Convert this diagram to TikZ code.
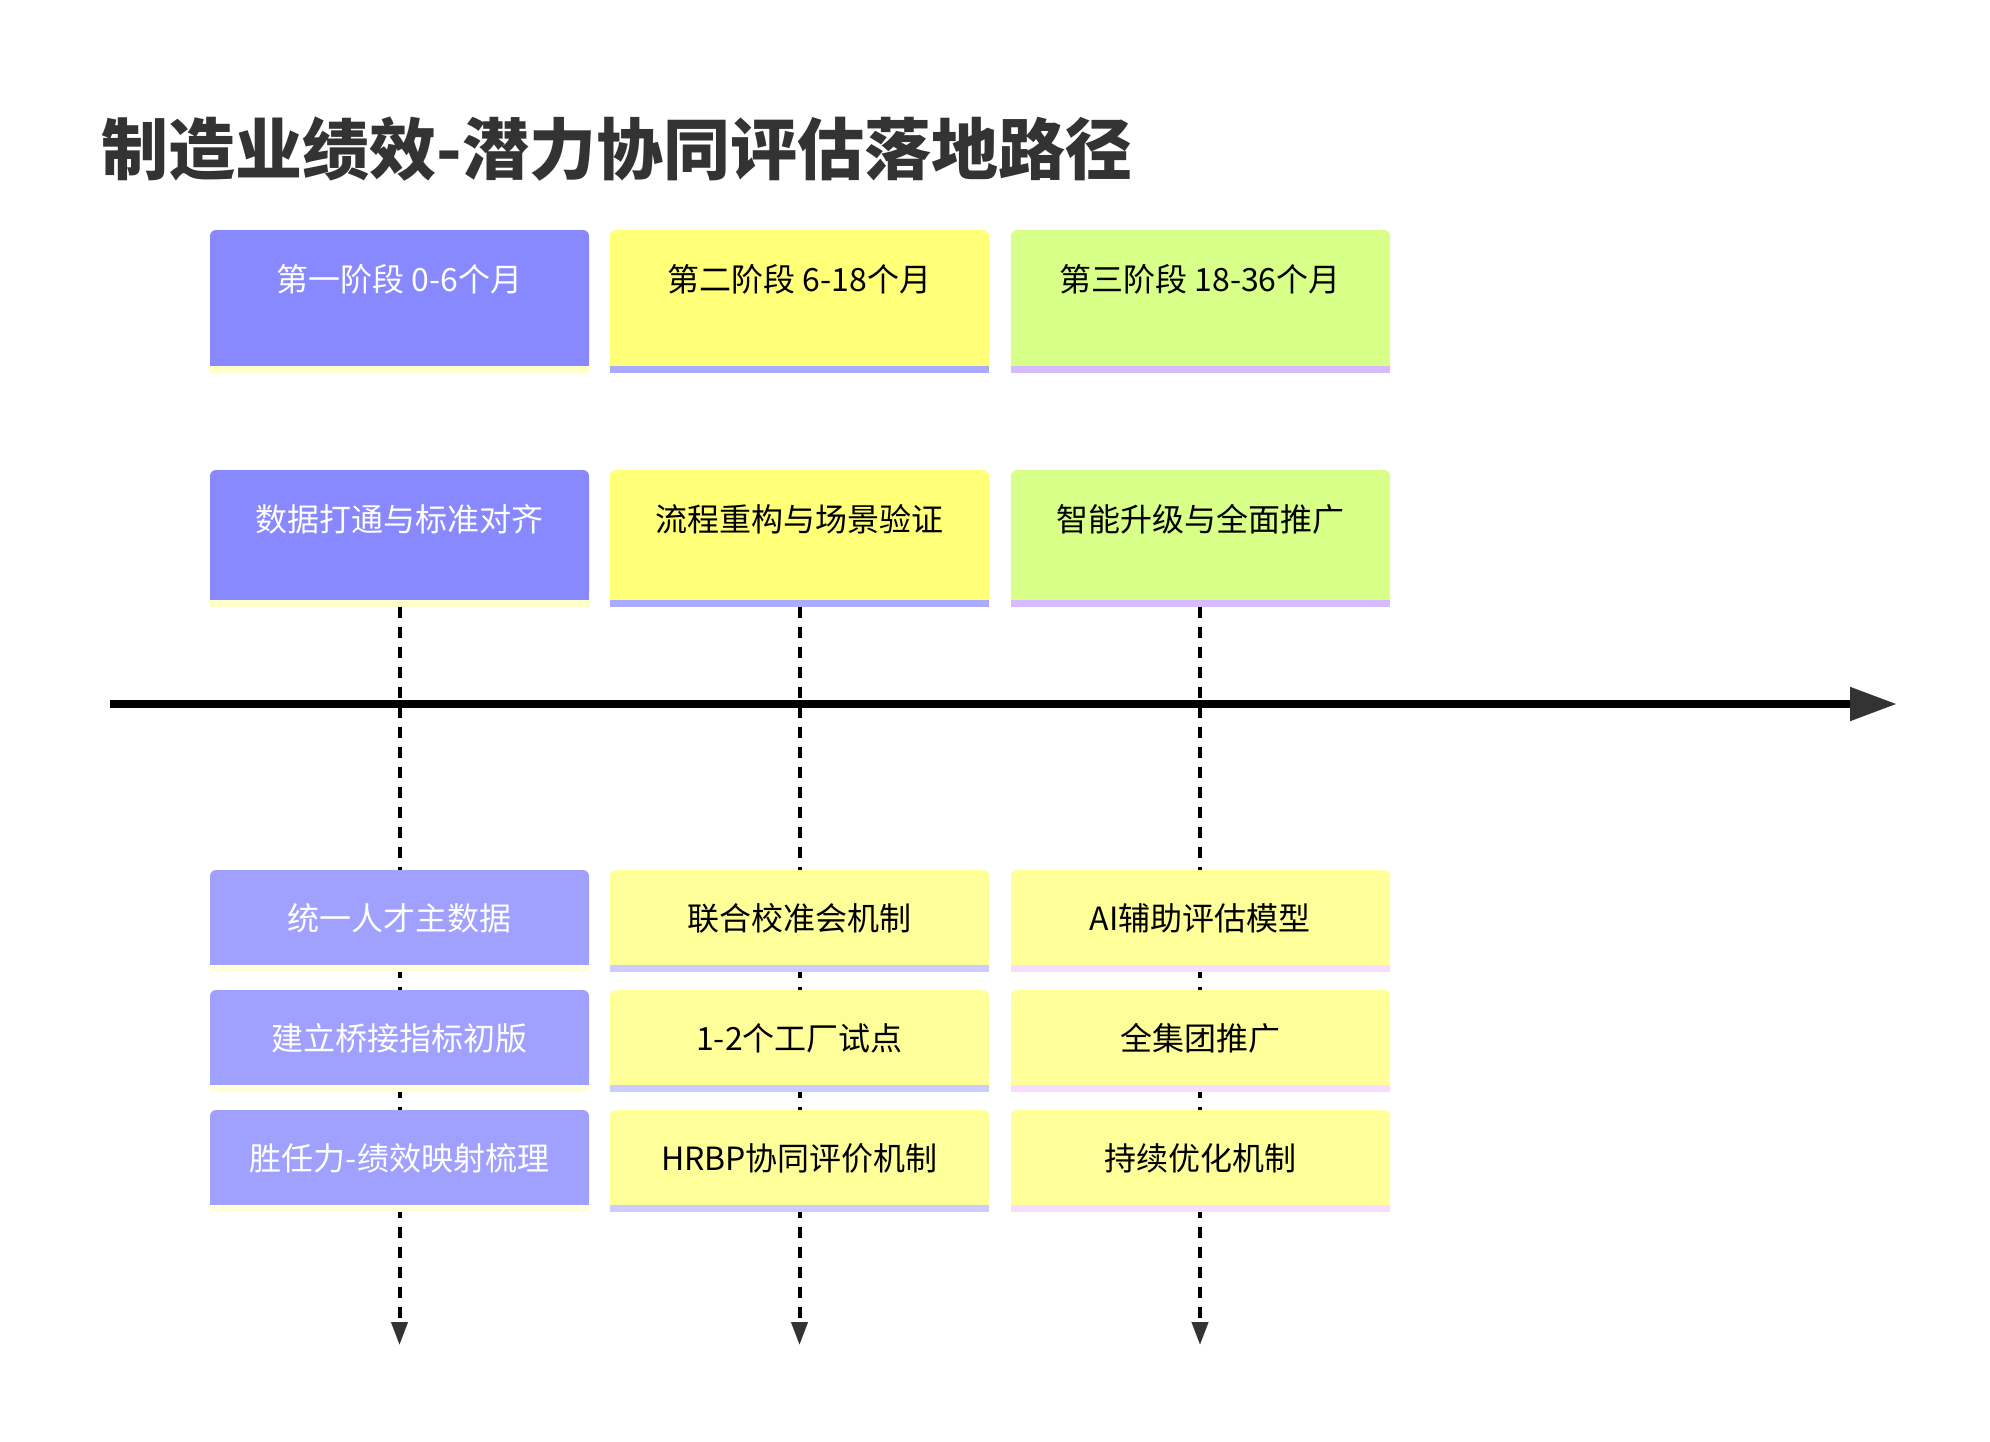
\documentclass[tikz,border=0pt]{standalone}
\usepackage{fontspec}
\setmainfont{Noto Sans CJK SC}
\usetikzlibrary{arrows.meta}
\definecolor{cdark}{HTML}{333333}
\definecolor{pone}{HTML}{8888FF}
\definecolor{ponestrip}{HTML}{FFFFC8}
\definecolor{ptwo}{HTML}{FFFF78}
\definecolor{ptwostrip}{HTML}{AAAAFF}
\definecolor{pthree}{HTML}{D8FF88}
\definecolor{pthreestrip}{HTML}{D6BBFF}
\definecolor{done}{HTML}{A0A0FF}
\definecolor{donestrip}{HTML}{FFFFDA}
\definecolor{dtwo}{HTML}{FFFF99}
\definecolor{dtwostrip}{HTML}{CCCCFF}
\definecolor{dthree}{HTML}{FFFF99}
\definecolor{dthreestrip}{HTML}{F8DDFF}
\newcommand\mycard[5]{%
  \fill[#4, rounded corners=3pt] (#1,#2) rectangle ++(379,#3);
  \fill[#4] (#1,#2+20) rectangle ++(379,#3-20);
  \fill[#5] (#1,#2+#3) rectangle ++(379,7);
}
\begin{document}
\begin{tikzpicture}[x=0.5pt,y=-0.5pt,
  txt/.style={inner sep=0pt, font=\fontsize{16pt}{19pt}\selectfont},
  wtxt/.style={txt, text=white},
  btxt/.style={txt, text=black},
  dashline/.style={line width=2pt, dash pattern=on 5.5pt off 4.5pt,
    -{Triangle[length=11.5pt,width=8pt,color=cdark,fill=cdark]}},
  axisline/.style={line width=4pt,
    -{Triangle[length=23.5pt,width=16pt,color=cdark,fill=cdark]}}]
\useasboundingbox (0,0) rectangle (1990,1441);
\fill[white] (0,0) rectangle (1990,1441);

% title
\node[anchor=west, inner sep=0pt, text=cdark,
  font=\bfseries\fontsize{33.5pt}{40pt}\selectfont] (title) at (101,149)
  {制造业绩效-潜力协同评估落地路径};

% dashed connectors (drawn first, boxes cover them)
\coordinate (s1) at (399.5,607);
\coordinate (s2) at (799.5,607);
\coordinate (s3) at (1200,607);
\coordinate (e1) at (399.5,1345);
\coordinate (e2) at (799.5,1345);
\coordinate (e3) at (1200,1345);
\draw[dashline] (s1) -- (e1);
\draw[dashline] (s2) -- (e2);
\draw[dashline] (s3) -- (e3);

% time axis
\coordinate (ax0) at (110,704);
\coordinate (ax1) at (1897,704);
\draw[axisline] (ax0) -- (ax1);

% phase headers
\mycard{210}{230}{136}{pone}{ponestrip}
\mycard{610}{230}{136}{ptwo}{ptwostrip}
\mycard{1011}{230}{136}{pthree}{pthreestrip}
\node[wtxt] (h1) at (399.5,279) {第一阶段 0-6个月};
\node[btxt] (h2) at (799.5,279) {第二阶段 6-18个月};
\node[btxt] (h3) at (1200,279) {第三阶段 18-36个月};

% phase themes
\mycard{210}{470}{130}{pone}{ponestrip}
\mycard{610}{470}{130}{ptwo}{ptwostrip}
\mycard{1011}{470}{130}{pthree}{pthreestrip}
\node[wtxt] (t1) at (399.5,519) {数据打通与标准对齐};
\node[btxt] (t2) at (799.5,519) {流程重构与场景验证};
\node[btxt] (t3) at (1200,519) {智能升级与全面推广};

% detail rows
\mycard{210}{870}{95}{done}{donestrip}
\mycard{210}{990}{95}{done}{donestrip}
\mycard{210}{1110}{95}{done}{donestrip}
\mycard{610}{870}{95}{dtwo}{dtwostrip}
\mycard{610}{990}{95}{dtwo}{dtwostrip}
\mycard{610}{1110}{95}{dtwo}{dtwostrip}
\mycard{1011}{870}{95}{dthree}{dthreestrip}
\mycard{1011}{990}{95}{dthree}{dthreestrip}
\mycard{1011}{1110}{95}{dthree}{dthreestrip}

\node[wtxt] (a1) at (399.5,918) {统一人才主数据};
\node[wtxt] (b1) at (399.5,1038) {建立桥接指标初版};
\node[wtxt] (c1) at (399.5,1158) {胜任力-绩效映射梳理};
\node[btxt] (a2) at (799.5,918) {联合校准会机制};
\node[btxt] (b2) at (799.5,1038) {1-2个工厂试点};
\node[btxt] (c2) at (799.5,1158) {HRBP协同评价机制};
\node[btxt] (a3) at (1200,918) {AI辅助评估模型};
\node[btxt] (b3) at (1200,1038) {全集团推广};
\node[btxt] (c3) at (1200,1158) {持续优化机制};
\end{tikzpicture}
\end{document}
